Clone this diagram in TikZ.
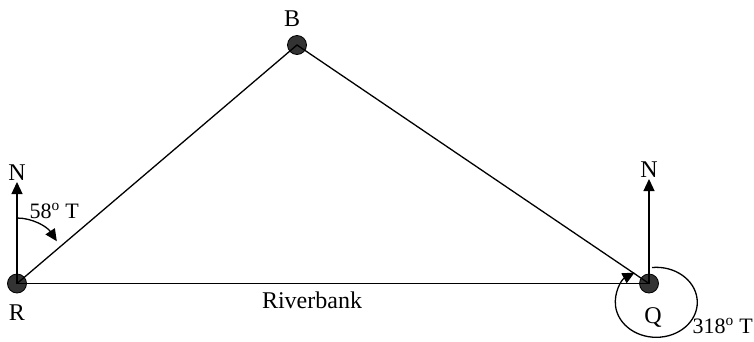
\documentclass[tikz,border=0pt]{standalone}
\usepackage{fontspec}
\setmainfont{Liberation Serif}
\usetikzlibrary{arrows.meta}
\begin{document}
\begin{tikzpicture}[x=1pt, y=-1pt, line width=1.3pt,
    font=\fontsize{24}{29}\selectfont,
    punto/.style={circle, draw, line width=0.8pt, fill=black!80, minimum size=19pt, inner sep=0pt},
    freccia/.style={-{Triangle[length=12pt,width=11pt]}},
    testo/.style={anchor=base, inner sep=0pt},
    angolo/.style={anchor=base west, inner sep=0pt, font=\fontsize{22}{26}\selectfont}]
\useasboundingbox (0,0) rectangle (754,341);
% Punti
\node[punto] (R) at (17,283.5) {};
\node[punto] (B) at (297,45) {};
\node[punto] (Q) at (649,283.5) {};
% Lati
\draw (R.center) -- (B.center) -- (Q.center);
\draw (R.center) -- (Q.center);
% Nord
\coordinate (RN) at (17,182);
\coordinate (QN) at (649,179);
\draw[freccia] (R.center) -- (RN);
\draw[freccia] (Q.center) -- (QN);
% Angoli
\coordinate (RA) at (17,218);
\draw[freccia] (RA) arc[start angle=-90, end angle=-40, x radius=52, y radius=65];
\coordinate (QA) at (652,267.5);
\draw[freccia] (QA) arc[start angle=-96, end angle=238, x radius=41, y radius=35];
% Etichette
\node[testo] (lB) at (292,26) {B};
\node[testo] (lR) at (17,320) {R};
\node[testo] (lQ) at (653,323) {Q};
\node[testo] (lRN) at (17,180) {N};
\node[testo] (lQN) at (649,177) {N};
\node[testo] (riva) at (312,308) {Riverbank};
\node[angolo] (angR) at (29,218) {58\textsuperscript{o} T};
\node[angolo] (angQ) at (692,333) {318\textsuperscript{o} T};
\end{tikzpicture}
\end{document}
